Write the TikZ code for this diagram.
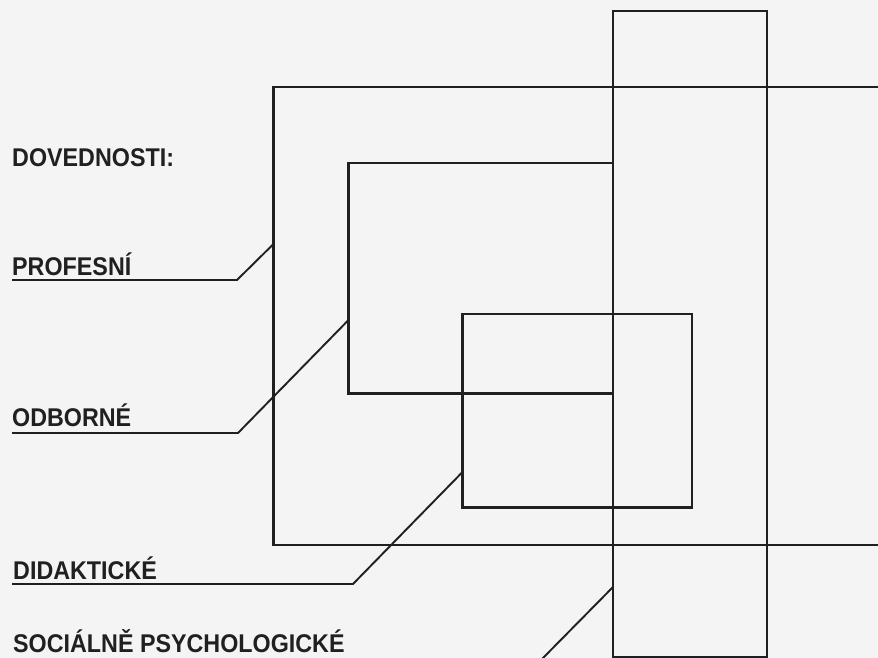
\documentclass[tikz,border=0pt]{standalone}
\usepackage{fontspec}
\setmainfont{Liberation Sans}
\definecolor{ink}{HTML}{202020}
\definecolor{paper}{HTML}{F4F4F5}
\begin{document}
\begin{tikzpicture}[x=1pt,y=-1pt,
  box/.style={draw=ink, line width=2.4pt, inner sep=0pt, outer sep=0pt, anchor=north west},
  lbl/.style={anchor=base west, inner sep=0pt, font=\fontsize{23.3}{28}\selectfont\bfseries, text=ink},
  lead/.style={draw=ink, line width=1.9pt, line join=miter}]
\fill[paper] (0,0) rectangle (878,658);
\useasboundingbox (0,0) rectangle (878,658);
\clip (0,0) rectangle (878,658);
% rectangles
\node[box, minimum width=626.5pt, minimum height=458pt] (B) at (273.5,87) {};
\node[box, minimum width=264.5pt, minimum height=230.5pt] (O) at (348.5,163) {};
\node[box, minimum width=229.5pt, minimum height=193.5pt] (D) at (462.5,314) {};
\node[box, minimum width=154pt, minimum height=646pt] (T) at (613,11) {};
% labels
\node[lbl] (lV) at (12,166) {\scalebox{1}[1.1]{DOVEDNOSTI:}};
\node[lbl] (lP) at (12,275) {\scalebox{1}[1.1]{PROFESNÍ}};
\node[lbl] (lO) at (12,426) {\scalebox{1}[1.1]{ODBORNÉ}};
\node[lbl] (lD) at (13,579) {\scalebox{1}[1.1]{DIDAKTICKÉ}};
\node[lbl] (lS) at (13,652) {\scalebox{1}[1.1]{SOCIÁLNĚ PSYCHOLOGICKÉ}};
% leader points
\coordinate (pK) at (237,280);  \coordinate (pE) at (273.5,244);
\coordinate (oK) at (238,433);  \coordinate (oE) at (348.5,320);
\coordinate (dK) at (353,584);  \coordinate (dE) at (462.5,472);
\coordinate (sK) at (542,659);  \coordinate (sE) at (613,587);
% leaders
\draw[lead] ([yshift=-5pt]lP.base west) -- (pK) -- (pE);
\draw[lead] ([yshift=-7pt]lO.base west) -- (oK) -- (oE);
\draw[lead] ([yshift=-5pt,xshift=-1pt]lD.base west) -- (dK) -- (dE);
\draw[lead] ([yshift=-7pt,xshift=-1pt]lS.base west) -- (sK) -- (sE);
\end{tikzpicture}
\end{document}
